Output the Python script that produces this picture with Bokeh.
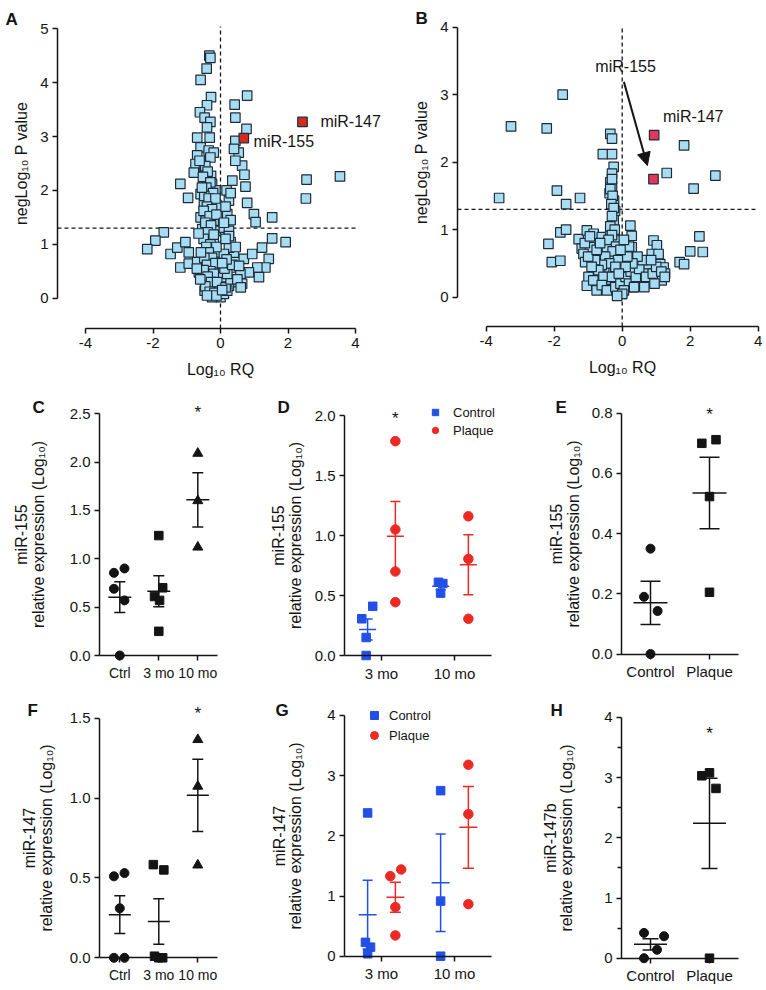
from bokeh.plotting import figure
from bokeh.layouts import row, column
from bokeh.models import (Range1d, FixedTicker, Label, Arrow, NormalHead,
                          Whisker, TeeHead, ColumnDataSource)
from bokeh.embed import file_html
from bokeh.resources import INLINE
from bokeh.core.properties import value

FONT = "Liberation Sans"
INK = "#141414"
SKY = "#a8dcf3"
EDGE = "#1c2c38"
BLUE = "#2250e6"
RED = "#ec2a24"

# ---------------- data: panel A (volcano, 3 mo) ----------------
a_x = [-0.33, -0.30, -0.41, -0.59, -0.28, -0.40, -0.61, -0.47, -0.30, -0.40, -0.69, -0.32,
       -0.59, -0.35, -0.20, -0.69, -0.30, -0.74, -0.49, -0.79, -0.28, -0.49, -1.19, -0.25,
       -0.40, -0.15, -0.59, -0.96, -0.35, -0.49, -0.10, -0.30, -0.59, -0.44, -0.20, -0.54,
       -0.15, -0.35, -1.68, -1.93, -2.17, -1.48, -1.28, -1.04, -0.94, -1.19, -0.94, -0.69,
       -0.64, -0.44, -0.47, -0.20, -0.15, -0.30, -0.20, -0.10, -0.20, -0.25, -0.05, 0.0,
       -0.10,
       0.79, 0.42, 0.44, 0.77, 0.44, 0.54, 0.40, 0.64, 0.44, 0.71, 0.35, 0.74, 0.18, 0.25,
       0.79, 0.99, 1.04, 1.53, 0.20, 0.10, 0.25, 0.30, 0.40, 0.25, 0.44, 0.69, 0.94, 1.23,
       1.53, 1.93, 1.43, 1.33, 1.09, 1.14, 0.84, 0.59, 0.64, 0.40, 0.25, 0.10, 0.20, 0.30,
       0.10, 0.05,
       2.55, 3.54, 2.53,
       -0.45, -0.38, -0.52, -0.30, -0.42, -0.22, -0.48, -0.35, -0.15, -0.40, -0.25, -0.50,
       -0.32, -0.12, -0.45, -0.28, -0.38, -0.20, -0.50, -0.30, -0.42, -0.12, -0.35, -0.25,
       -0.48, -0.40, -0.15, -0.30, -0.50, -0.20, -0.38, -0.28, -0.10, -0.45, -0.32, -0.18,
       -0.25, -0.40, -0.12, 0.15, 0.05, 0.30, 0.20, 0.12, 0.35, 0.18, 0.05, 0.25, 0.15,
       0.30, 0.15, 0.30, 0.10, 0.45, 0.55, 0.50, 0.60, -0.60, -0.70, -0.58, -0.65, -0.55,
       -0.62]
a_y = [4.50, 4.46, 4.26, 4.05, 3.73, 3.58, 3.45, 3.35, 3.27, 3.17, 2.98, 2.98,
       2.80, 2.74, 2.70, 2.65, 2.61, 2.49, 2.43, 2.33, 2.27, 2.18, 2.12, 2.12,
       2.03, 2.00, 1.93, 1.86, 1.81, 1.75, 1.72, 1.60, 1.50, 1.44, 1.44, 1.28,
       1.25, 1.13, 1.22, 1.07, 0.91, 0.82, 0.94, 1.04, 0.85, 0.57, 0.64, 0.67,
       0.48, 0.33, 0.14, 1.01, 0.85, 0.64, 0.57, 0.39, 0.27, 0.17, 0.08, 0.02,
       0.20,
       3.76, 3.59, 3.35, 3.14, 2.92, 2.70, 2.77, 2.46, 2.55, 2.29, 2.18, 2.07, 2.00, 1.81,
       1.77, 1.56, 1.41, 1.50, 1.56, 1.31, 1.25, 1.04, 0.82, 0.94, 0.67, 0.73, 0.82, 0.94,
       1.11, 1.04, 0.73, 0.57, 0.57, 0.39, 0.48, 0.45, 0.27, 0.30, 0.23, 0.08, 0.14, 0.57,
       0.82, 0.39,
       2.20, 2.26, 1.85,
       2.45, 2.35, 2.25, 2.15, 2.05, 1.95, 1.90, 1.85, 1.85, 1.70, 1.65, 1.62,
       1.52, 1.55, 1.40, 1.35, 1.22, 1.18, 1.10, 1.00, 0.95, 0.95, 0.85, 0.75,
       0.75, 0.62, 0.65, 0.50, 0.52, 0.45, 0.40, 0.30, 0.30, 0.22, 0.12, 0.10,
       0.02, 0.05, 0.05, 0.20, 0.15, 0.35, 0.45, 0.55, 0.62, 0.72, 0.65, 1.15, 1.10,
       1.45, 1.70, 1.95, 1.40, 0.95, 0.60, 0.35, 0.20, 0.35, 0.55, 0.85, 1.20, 2.05,
       2.55]
a_hit_x = [2.43, 0.69]
a_hit_y = [3.27, 2.97]
a_hit_names = ["miR-147", "miR-155"]
a_name_x = [2.96, 0.98]
a_name_y = [3.28, 2.90]

# ---------------- data: panel B (volcano, 10 mo) ----------------
b_x = [-1.75, -3.27, -2.22, -3.62, -1.92, -1.24, -1.65, -2.17, -1.82, -1.65, -2.07, -1.82,
       -1.28, -1.04, -0.84, -1.19, -0.94, -1.14, -1.09, -0.99, -1.04, -0.75, -0.60,
       -0.35, -0.30, -0.57, -0.30, -0.25, -0.30, -0.35, -0.30, -0.37, -0.24, -0.21, -0.25,
       -0.35, -0.16, -0.45, -0.21, -0.35, -0.50, -0.25, -0.65, -0.45, -0.21, -0.35, -0.11,
       -0.01, 0.04, 0.14, 0.24, 0.28, 0.28, 0.33, 0.19, 0.48, 0.63, 0.92, 1.02, 0.87, 1.07,
       0.77, 1.12, 1.22, 1.26, 1.02, 0.73, 0.53, 0.33, 1.16, 1.69, 1.82, 2.00, 2.27, 2.37,
       1.31, 1.82, 2.10, 2.74,
       -0.30, -0.35, -0.28, -0.32, -0.25, -0.30, -0.35, -0.22, -0.30, -0.40, -0.18, -0.28,
       -0.50, -0.12, -0.38, -0.60, -0.20, -0.80, -0.70, -0.90, -0.55, -0.30, -0.85, -0.60,
       -0.45, -0.20, -0.05, 0.10, 0.20, 0.05, 0.25, 0.40, 0.50, 0.60, 0.45, 0.30, 0.15,
       0.10, 0.70, 0.90, 1.00, 1.15, 0.85, 0.95, 1.25, 0.65, 0.35, -0.10, -1.00, -0.75,
       -0.65, -1.10, -0.95, 0.20, 0.05, -0.05, 0.00, -0.15]
b_y = [3.00, 2.53, 2.50, 1.47, 1.58, 1.47, 1.38, 0.79, 0.96, 1.00, 0.52, 0.54,
       0.86, 0.99, 0.94, 0.72, 0.74, 0.64, 0.52, 0.30, 0.17, 0.10, 0.89,
       2.42, 2.35, 2.12, 2.12, 1.93, 1.83, 1.70, 1.65, 1.54, 1.43, 1.28, 1.14,
       0.99, 0.84, 0.74, 0.64, 0.57, 0.44, 0.40, 0.35, 0.25, 0.20, 0.12, 0.10,
       0.05, 0.27, 0.44, 1.06, 0.91, 0.74, 0.59, 0.54, 0.49, 0.40, 0.84, 0.77, 0.64, 0.64,
       0.49, 0.49, 0.44, 0.35, 0.30, 0.25, 0.20, 0.15, 0.25, 0.52, 0.49, 0.68, 0.90, 0.67,
       1.84, 2.25, 1.61, 1.80,
       1.75, 1.60, 1.50, 1.38, 1.32, 1.20, 1.05, 1.00, 0.92, 0.85, 0.75, 0.68,
       0.60, 0.55, 0.50, 0.48, 0.45, 0.55, 0.40, 0.45, 0.30, 0.30, 0.25, 0.18,
       0.10, 0.15, 0.20, 0.30, 0.20, 0.10, 0.38, 0.30, 0.42, 0.55, 0.60, 0.50, 0.60,
       0.45, 0.30, 0.35, 0.45, 0.38, 0.55, 0.20, 0.30, 0.15, 0.15, 0.35, 0.60, 0.70,
       0.80, 0.80, 0.90, 0.75, 0.85, 0.70, 0.05, 0.02]
b_hit_x = [0.94, 0.92]
b_hit_y = [2.40, 1.75]
b_name = ["miR-155", "miR-147"]
b_name_x = [0.10, 1.20]
b_name_y = [3.42, 2.68]
b_arrow = [0.05, 3.19, 0.74, 1.95]

rq_ticks = [-4, -2, 0, 2, 4]
rq_labels = ["-4", "-2", "0", "2", "4"]
sig_cut = 1.3

# ---------------- data: panel C (miR-155, Ctrl / 3 mo / 10 mo) ----------------
cf_cats = ["Ctrl", "3 mo", "10 mo"]
c_ctrl = [0.855, 0.90, 0.69, 0.57, 0.0]
c_3mo = [1.24, 0.70, 0.61, 0.57, 0.25]
c_10mo = [2.09, 1.60, 1.12]
c_mean = [0.603, 0.665, 1.61]
c_sem = [0.159, 0.16, 0.28]
c_star = [2.54]
c_yticks = [0, 0.5, 1.0, 1.5, 2.0, 2.5]
c_ylabels = ["0.0", "0.5", "1.0", "1.5", "2.0", "2.5"]

# ---------------- data: panel D (miR-155, control vs plaque) ----------------
dg_cats = ["3 mo", "10 mo"]
d_ctrl_3 = [0.306, 0.41, 0.15, 0.0]
d_ctrl_10 = [0.61, 0.60, 0.52]
d_plq_3 = [1.786, 1.05, 0.70, 0.444]
d_plq_10 = [1.16, 0.805, 0.306]
d_ctrl_mean = [0.217, 0.578]
d_ctrl_sem = [0.088, 0.03]
d_plq_mean = [0.994, 0.756]
d_plq_sem = [0.29, 0.25]
d_star = [2.0]
d_yticks = [0, 0.5, 1.0, 1.5, 2.0]
d_ylabels = ["0.0", "0.5", "1.0", "1.5", "2.0"]

# ---------------- data: panel E (miR-155, human) ----------------
eh_cats = ["Control", "Plaque"]
e_ctrl = [0.35, 0.19, 0.143, 0.0]
e_plq = [0.70, 0.712, 0.523, 0.205]
e_mean = [0.170, 0.535]
e_sem = [0.072, 0.119]
e_star = [0.805]
e_yticks = [0, 0.2, 0.4, 0.6, 0.8]
e_ylabels = ["0.0", "0.2", "0.4", "0.6", "0.8"]

# ---------------- data: panel F (miR-147) ----------------
f_ctrl = [0.51, 0.53, 0.31, 0.0, 0.0]
f_3mo = [0.583, 0.55, 0.01, 0.0, 0.0]
f_10mo = [1.365, 1.073, 0.58]
f_mean = [0.27, 0.227, 1.017]
f_sem = [0.118, 0.142, 0.226]
f_star = [1.55]
f_yticks = [0, 0.5, 1.0, 1.5]
f_ylabels = ["0.0", "0.5", "1.0", "1.5"]

# ---------------- data: panel G (miR-147, control vs plaque) ----------------
g_ctrl_3 = [2.38, 0.23, 0.15, 0.04]
g_ctrl_10 = [2.75, 0.915, 0.0]
g_plq_3 = [1.33, 1.44, 0.815, 0.345]
g_plq_10 = [3.18, 2.36, 0.865]
g_ctrl_mean = [0.69, 1.22]
g_ctrl_sem = [0.57, 0.81]
g_plq_mean = [0.98, 2.14]
g_plq_sem = [0.25, 0.68]
g_yticks = [0, 1, 2, 3, 4]
g_ylabels = ["0", "1", "2", "3", "4"]

# ---------------- data: panel H (miR-147b, human) ----------------
h_ctrl = [0.42, 0.365, 0.14, 0.0]
h_plq = [3.03, 3.08, 2.82, 0.0]
h_mean = [0.23, 2.24]
h_sem = [0.095, 0.75]
h_star = [3.79]
h_yticks = [0, 1, 2, 3, 4]
h_ylabels = ["0", "1", "2", "3", "4"]
h_minor = [0.5, 1.5, 2.5, 3.5]

# ---------------- horizontal scatter offsets (layout only) ----------------
c_ctrl_dx = [-0.15, 0.12, -0.15, 0.12, 0.0]
c_3mo_dx = [0.0, 0.10, -0.11, 0.02, 0.0]
f_ctrl_dx = [-0.15, 0.12, 0.0, -0.15, 0.12]
f_3mo_dx = [-0.14, 0.13, -0.11, 0.0, 0.10]
d_ctrl3_dx = [-0.08, 0.07, -0.02, -0.02]
d_ctrl10_dx = [-0.03, 0.03, 0.0]
g_ctrl3_dx = [0.0, -0.03, 0.04, 0.0]
g_plq3_dx = [-0.07, 0.08, 0.0, 0.0]
e_ctrl_dx = [0.0, -0.11, 0.12, 0.0]
e_plq_dx = [-0.13, 0.11, 0.0, 0.0]
h_ctrl_dx = [-0.11, 0.23, 0.11, -0.11]
h_plq_dx = [-0.13, 0.0, 0.11, 0.0]
GROUP = 0.19


def build(box, xcal, ycal, axis_x_px, axis_y_px):
    """box = figure box in page px (left, right, top, bottom); the frame fills it."""
    l, r, t, b = box
    x0, xpx, xppu = xcal
    y0, ypx, yppu = ycal

    def xd(px):
        return x0 + (px - xpx) / xppu

    def yd(py):
        return y0 + (ypx - py) / yppu

    p = figure(frame_width=r - l, frame_height=b - t,
               x_range=Range1d(xd(l), xd(r)), y_range=Range1d(yd(b), yd(t)),
               output_backend="svg", toolbar_location=None, title=None, min_border=0)
    p.outline_line_color = None
    p.xgrid.visible = False
    p.ygrid.visible = False
    p.background_fill_color = "white"
    p.border_fill_color = "white"
    p.yaxis.fixed_location = xd(axis_x_px)
    if axis_y_px is not None:
        p.xaxis.fixed_location = yd(axis_y_px)
    for ax in p.axis:
        ax.axis_line_width = 1.5
        ax.axis_line_color = INK
        ax.major_tick_line_width = 1.5
        ax.major_tick_line_color = INK
        ax.major_tick_out = 5
        ax.major_tick_in = 0
        ax.minor_tick_line_color = None
        ax.major_label_text_font = FONT
        ax.major_label_text_font_size = "15px"
        ax.major_label_text_color = INK
        ax.major_label_standoff = 4
        ax.axis_label_text_font = FONT
        ax.axis_label_text_font_size = "16px"
        ax.axis_label_text_font_style = "normal"
        ax.axis_label_text_color = INK
        ax.axis_label_text_line_height = 0.95
    return p, xd, yd


def letter(p, xd, yd, ch, px, py):
    p.add_layout(Label(x=xd(px), y=yd(py), text=ch, text_font=FONT, text_font_size="17px",
                       text_font_style="bold", text_baseline="alphabetic", text_color=INK))


def set_ticks(ax, ticks, labels, minor=None):
    ax.ticker = FixedTicker(ticks=ticks, minor_ticks=minor or [])
    ax.major_label_overrides = {t: s for t, s in zip(ticks, labels)}


def errbars(p, xs, means, sems, color, mean_w, cap_w):
    src = ColumnDataSource(dict(x=xs, upper=[m + s for m, s in zip(means, sems)],
                                lower=[m - s for m, s in zip(means, sems)]))
    p.add_layout(Whisker(source=src, base="x", upper="upper", lower="lower",
                         line_color=color, line_width=1.5,
                         upper_head=TeeHead(size=cap_w, line_color=color, line_width=1.5),
                         lower_head=TeeHead(size=cap_w, line_color=color, line_width=1.5)))
    p.scatter(xs, means, marker="dash", size=mean_w, line_color=color, line_width=1.5)


def stars(p, xs, ys):
    p.text(x=xs, y=ys, text=["*"] * len(xs), text_font=value(FONT), text_font_size="17px",
           text_align="center", text_baseline="middle", text_color=INK, y_offset=3)


def volcano(box, xcal, ycal, axis_x_px, axis_y_px, right_px, top_px,
            xs, ys, hx, hy, hit_color, ymax, letter_px):
    p, xd, yd = build(box, xcal, ycal, axis_x_px, axis_y_px)
    set_ticks(p.xaxis[0], rq_ticks, rq_labels)
    yt = list(range(0, ymax + 1))
    set_ticks(p.yaxis[0], yt, [str(v) for v in yt])
    p.xaxis.bounds = (rq_ticks[0], rq_ticks[-1])
    p.yaxis.bounds = (0, ymax)
    p.xaxis.axis_label = "Log\u2081\u2080 RQ"
    p.yaxis.axis_label = "negLog\u2081\u2080 P value"
    p.xaxis.axis_label_standoff = 10
    p.yaxis.axis_label_standoff = 7
    # significance guides (x = 0 and P = 0.05), limited to the plotting area
    p.segment(x0=[0], y0=[yd(axis_y_px)], x1=[0], y1=[yd(top_px)],
              line_color=INK, line_dash="4 3", line_width=1.3)
    p.segment(x0=[xd(axis_x_px)], y0=[sig_cut], x1=[xd(right_px)], y1=[sig_cut],
              line_color=INK, line_dash="4 3", line_width=1.3)
    p.scatter(xs, ys, marker="square", size=9.5, fill_color=SKY, line_color=EDGE, line_width=1.2)
    p.scatter(hx, hy, marker="square", size=9.5, fill_color=hit_color, line_color=EDGE, line_width=1.2)
    letter(p, xd, yd, letter_px[0], letter_px[1], letter_px[2])
    return p, xd, yd


# ---------------- A ----------------
pA, xdA, ydA = volcano((0, 405, 0, 380), (0, 220, 33.75), (0, 297.7, 53.9), 57, 328, 357, 26,
                       a_x, a_y, a_hit_x, a_hit_y, "#d42a1f", 5, ("A", 5, 19))
for nm, lx, ly in zip(a_hit_names, a_name_x, a_name_y):
    pA.add_layout(Label(x=lx, y=ly, text=nm, text_font=FONT, text_font_size="16px",
                        text_baseline="middle", text_color=INK))

# ---------------- B ----------------
pB, xdB, ydB = volcano((405, 766, 0, 380), (0, 621.7, 34), (0, 296.7, 67.5), 457, 326, 758, 26,
                       b_x, b_y, b_hit_x, b_hit_y, "#e5365a", 4, ("B", 415, 18))
pB.add_layout(Label(x=b_name_x[0], y=b_name_y[0], text=b_name[0], text_font=FONT,
                    text_font_size="16px", text_baseline="middle", text_align="center",
                    text_color=INK))
pB.add_layout(Label(x=b_name_x[1], y=b_name_y[1], text=b_name[1], text_font=FONT,
                    text_font_size="16px", text_baseline="middle", text_color=INK))
pB.add_layout(Arrow(end=NormalHead(size=13, fill_color=INK, line_color=INK),
                    x_start=b_arrow[0], y_start=b_arrow[1], x_end=b_arrow[2], y_end=b_arrow[3],
                    line_width=2, line_color=INK))


def category_panel(box, xcal, ycal, axis_x_px, axis_right_px, cats, yticks, ylabels, ylabel,
                   standoff, letter_px, minor=None, xfont="15px"):
    p, xd, yd = build(box, xcal, ycal, axis_x_px, None)
    p.xaxis.fixed_location = 0
    set_ticks(p.xaxis[0], list(range(1, len(cats) + 1)), cats)
    set_ticks(p.yaxis[0], yticks, ylabels, minor)
    p.xaxis.bounds = (xd(axis_x_px), xd(axis_right_px))
    p.xaxis.major_label_text_font_size = xfont
    p.yaxis.bounds = (0, yticks[-1])
    p.yaxis.axis_label = ylabel
    p.yaxis.axis_label_standoff = standoff
    if minor:
        p.yaxis.minor_tick_line_color = INK
        p.yaxis.minor_tick_line_width = 1.5
        p.yaxis.minor_tick_out = 4
        p.yaxis.minor_tick_in = 0
    letter(p, xd, yd, letter_px[0], letter_px[1], letter_px[2])
    return p, xd, yd


def at(cat, dxs):
    return [cat + d for d in dxs]


# ---------------- C ----------------
pC, xdC, ydC = category_panel((0, 262, 380, 690), (1, 119.3, 39), (0, 655, 96.7), 99, 217,
                              cf_cats, c_yticks, c_ylabels,
                              "miR-155\nrelative expression (Log\u2081\u2080)", 20, ("C", 32, 407),
                              xfont="14px")
pC.scatter(at(1, c_ctrl_dx), c_ctrl, marker="circle", size=9, color=INK)
pC.scatter(at(2, c_3mo_dx), c_3mo, marker="square", size=8.5, color=INK)
pC.scatter([3] * len(c_10mo), c_10mo, marker="triangle", size=10, color=INK)
errbars(pC, [1, 2, 3], c_mean, c_sem, INK, 23, 11)
stars(pC, [3], c_star)

# ---------------- D ----------------
pD, xdD, ydD = category_panel((262, 530, 380, 690), (1, 381, 73), (0, 655, 120), 344, 491,
                              dg_cats, d_yticks, d_ylabels,
                              "miR-155\nrelative expression (Log\u2081\u2080)", 8, ("D", 277, 407))
pD.scatter(at(1 - GROUP, d_ctrl3_dx) + at(2 - GROUP, d_ctrl10_dx), d_ctrl_3 + d_ctrl_10,
           marker="square", size=8.5, color=BLUE, legend_label="Control")
pD.scatter([1 + GROUP] * len(d_plq_3) + [2 + GROUP] * len(d_plq_10), d_plq_3 + d_plq_10,
           marker="circle", size=9.5, color=RED, legend_label="Plaque")
errbars(pD, [1 - GROUP, 2 - GROUP], d_ctrl_mean, d_ctrl_sem, BLUE, 17, 10)
errbars(pD, [1 + GROUP, 2 + GROUP], d_plq_mean, d_plq_sem, RED, 17, 10)
stars(pD, [1 + GROUP], d_star)

# ---------------- E ----------------
pE, xdE, ydE = category_panel((530, 766, 380, 690), (1, 650, 59), (0, 653.5, 301), 621, 738,
                              eh_cats, e_yticks, e_ylabels,
                              "miR-155\nrelative expression (Log\u2081\u2080)", 7, ("E", 555, 407))
pE.scatter(at(1, e_ctrl_dx), e_ctrl, marker="circle", size=9, color=INK)
pE.scatter(at(2, e_plq_dx), e_plq, marker="square", size=8.5, color=INK)
errbars(pE, [1, 2], e_mean, e_sem, INK, 34, 20)
stars(pE, [2], e_star)

# ---------------- F ----------------
pF, xdF, ydF = category_panel((0, 262, 690, 988), (1, 119.3, 39), (0, 957.3, 159.8), 99, 217,
                              cf_cats, f_yticks, f_ylabels,
                              "miR-147\nrelative expression (Log\u2081\u2080)", 12, ("F", 27, 710),
                              xfont="14px")
pF.scatter(at(1, f_ctrl_dx), f_ctrl, marker="circle", size=9, color=INK)
pF.scatter(at(2, f_3mo_dx), f_3mo, marker="square", size=8.5, color=INK)
pF.scatter([3] * len(f_10mo), f_10mo, marker="triangle", size=10, color=INK)
errbars(pF, [1, 2, 3], f_mean, f_sem, INK, 22, 11)
stars(pF, [3], f_star)

# ---------------- G ----------------
pG, xdG, ydG = category_panel((262, 530, 690, 988), (1, 381, 73), (0, 955.7, 60.2), 344, 491,
                              dg_cats, g_yticks, g_ylabels,
                              "miR-147\nrelative expression (Log\u2081\u2080)", 20, ("G", 275, 710))
pG.scatter(at(1 - GROUP, g_ctrl3_dx) + [2 - GROUP] * len(g_ctrl_10), g_ctrl_3 + g_ctrl_10,
           marker="square", size=8.5, color=BLUE, legend_label="Control")
pG.scatter(at(1 + GROUP, g_plq3_dx) + [2 + GROUP] * len(g_plq_10), g_plq_3 + g_plq_10,
           marker="circle", size=9.5, color=RED, legend_label="Plaque")
errbars(pG, [1 - GROUP, 2 - GROUP], g_ctrl_mean, g_ctrl_sem, BLUE, 18, 10)
errbars(pG, [1 + GROUP, 2 + GROUP], g_plq_mean, g_plq_sem, RED, 18, 11)

# ---------------- H ----------------
pH, xdH, ydH = category_panel((530, 766, 690, 988), (1, 650, 59), (0, 957.7, 60.2), 621, 738,
                              eh_cats, h_yticks, h_ylabels,
                              "miR-147b\nrelative expression (Log\u2081\u2080)", 26, ("H", 550, 710),
                              minor=h_minor)
pH.scatter(at(1, h_ctrl_dx), h_ctrl, marker="circle", size=9, color=INK)
pH.scatter(at(2, h_plq_dx), h_plq, marker="square", size=8.5, color=INK)
errbars(pH, [1, 2], h_mean, h_sem, INK, 33, 16)
stars(pH, [2], h_star)

# ---------------- legends ----------------
for p, loc, glyph, spacing, standoff in ((pD, (165, 252), 16, 2, 10),
                                         (pG, (102, 243), 20, 0, 5)):
    lg = p.legend[0]
    lg.location = loc
    lg.background_fill_alpha = 0
    lg.border_line_alpha = 0
    lg.padding = 0
    lg.margin = 0
    lg.spacing = spacing
    lg.glyph_width = glyph
    lg.glyph_height = glyph
    lg.label_height = glyph
    lg.label_standoff = standoff
    lg.label_text_font = FONT
    lg.label_text_font_size = "13px"
    lg.label_text_color = INK

layout = column(row(pA, pB), row(pC, pD, pE), row(pF, pG, pH))
open("out.html", "w").write(file_html(layout, INLINE))
